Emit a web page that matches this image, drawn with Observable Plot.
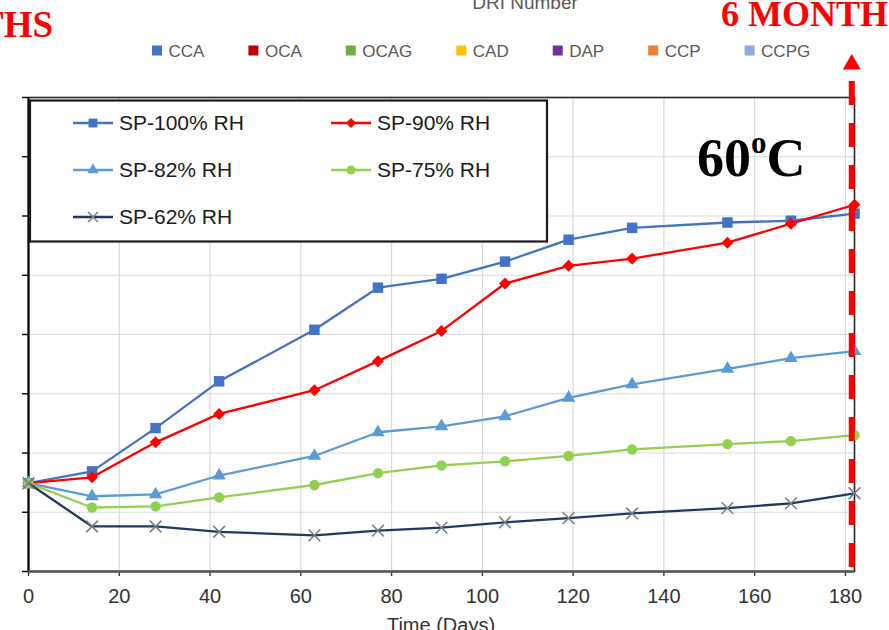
<!DOCTYPE html>
<html>
<head>
<meta charset="utf-8">
<script src="https://cdn.jsdelivr.net/npm/d3@7"></script>
<script src="https://cdn.jsdelivr.net/npm/@observablehq/plot@0.6"></script>
<style>
  html, body { margin: 0; padding: 0; width: 889px; height: 630px; overflow: hidden; background: #fff; }
  #chart { position: absolute; left: 0; top: 0; }
  #chart svg { overflow: hidden; }
</style>
</head>
<body>
<div id="chart"></div>
<script>
// Storage time (days) and the response measured for each humidity level at 60 °C
const days  = [0, 14, 28, 42, 63, 77, 91, 105, 119, 133, 154, 168, 182];
const rh100 = [1.49, 1.69, 2.42, 3.21, 4.08, 4.79, 4.94, 5.23, 5.60, 5.80, 5.89, 5.92, 6.04];
const rh90  = [1.49, 1.59, 2.18, 2.66, 3.06, 3.55, 4.06, 4.86, 5.16, 5.28, 5.55, 5.87, 6.19];
const rh82  = [1.49, 1.27, 1.30, 1.62, 1.95, 2.35, 2.45, 2.62, 2.93, 3.16, 3.42, 3.60, 3.72];
const rh75  = [1.49, 1.08, 1.10, 1.25, 1.46, 1.66, 1.79, 1.86, 1.95, 2.06, 2.15, 2.20, 2.30];
const rh62  = [1.49, 0.76, 0.76, 0.67, 0.61, 0.69, 0.74, 0.83, 0.90, 0.98, 1.07, 1.15, 1.32];

const seriesNames  = ["SP-100% RH", "SP-90% RH", "SP-82% RH", "SP-75% RH", "SP-62% RH"];
const seriesValues = [rh100, rh90, rh82, rh75, rh62];

// Categories of the DRI Number key shown above the chart
const groupLabels = ["CCA", "OCA", "OCAG", "CAD", "DAP", "CCP", "CCPG"];

const xTicks = [0, 20, 40, 60, 80, 100, 120, 140, 160, 180];
const yTicks = [0, 1, 2, 3, 4, 5, 6, 7, 8];

// Six-month mark (day) with its arrow
const sixMonthDay = 181.4;

// ---- styling ----
const lineColors   = ["#4472C4", "#FF0000", "#5B9BD5", "#92D050", "#1F3864"];
const groupColors  = ["#4472C4", "#C00000", "#70AD47", "#FFC000", "#7030A0", "#ED7D31", "#8FAADC"];
const markerStyle = [
  {symbol: "square",   r: 5.9, fill: "#4472C4", stroke: "none"},
  {symbol: "diamond2", r: 5.4, fill: "#FF0000", stroke: "none"},
  {symbol: "triangle", r: 5.0, fill: "#5B9BD5", stroke: "none"},
  {symbol: "circle",   r: 5.2, fill: "#92D050", stroke: "none"},
  {symbol: "times",    r: 5.4, fill: "none",    stroke: "#7F7F7F"}
];

const rows = seriesNames.flatMap((name, i) =>
  days.map((d, j) => ({series: name, day: d, value: seriesValues[i][j]})));

const seriesMarks = seriesNames.flatMap((name, i) => {
  const data = rows.filter(r => r.series === name);
  const m = markerStyle[i];
  return [
    Plot.line(data, {x: "day", y: "value", stroke: lineColors[i], strokeWidth: 2.3}),
    Plot.dot(data, {x: "day", y: "value", symbol: m.symbol, r: m.r, fill: m.fill,
                    stroke: m.stroke, strokeWidth: 1.6})
  ];
});

const plot = Plot.plot({
  width: 889,
  height: 630,
  marginLeft: 28,
  marginRight: 35,
  marginTop: 97,
  marginBottom: 59,
  style: {background: "white", fontFamily: "Liberation Sans, Arial, sans-serif"},
  x: {domain: [0, 182]},
  y: {domain: [0, 8]},
  marks: [
    Plot.gridX(xTicks.slice(1), {stroke: "#D9D9D9", strokeOpacity: 1, strokeWidth: 1.2}),
    Plot.gridY(yTicks.slice(1, -1), {stroke: "#D9D9D9", strokeOpacity: 1, strokeWidth: 1.2}),
    Plot.frame({stroke: "#262626", strokeWidth: 1.6}),
    Plot.axisY(yTicks, {tickSize: 6, tickFormat: () => "", label: null, color: "#000", strokeWidth: 1.4}),
    Plot.axisX(xTicks, {tickSize: 5, tickPadding: 12, fontSize: 20, label: null,
                        color: "#333333", strokeWidth: 1.4}),
    Plot.ruleX([0], {stroke: "#000", strokeWidth: 2}),
    Plot.ruleY([0], {stroke: "#595959", strokeWidth: 2.4}),
    ...seriesMarks,
    // dashed six-month marker and its arrowhead
    Plot.ruleX([sixMonthDay], {y1: 8.27, y2: 0.05, stroke: "#FF0000", strokeWidth: 6,
                               strokeDasharray: "24,18"}),
    Plot.dot([sixMonthDay], {x: d => d, y: () => 8.56, symbol: "triangle", r: 6.7,
                             fill: "#FF0000", stroke: "none"})
  ]
});

document.getElementById("chart").append(plot);

const svg = d3.select(plot);
const sans = "Liberation Sans, Arial, sans-serif";
const serif = "Liberation Serif, Times New Roman, serif";

// ---- headings around the plot ----
svg.append("text").attr("x", 525).attr("y", 9).attr("text-anchor", "middle")
  .attr("font-family", sans).attr("font-size", 19).attr("fill", "#595959").text("DRI Number");

svg.append("text").attr("x", 53).attr("y", 37).attr("text-anchor", "end")
  .attr("font-family", serif).attr("font-weight", "bold").attr("font-size", 37)
  .attr("fill", "#FF0000").text("THS");

svg.append("text").attr("x", 721).attr("y", 26).attr("text-anchor", "start")
  .attr("font-family", serif).attr("font-weight", "bold").attr("font-size", 36)
  .attr("fill", "#FF0000").text("6 MONTH");

svg.append("text").attr("x", 441).attr("y", 632).attr("text-anchor", "middle")
  .attr("font-family", sans).attr("font-size", 20).attr("fill", "#333333").text("Time (Days)");

// temperature tag
const temp = svg.append("text").attr("x", 697).attr("y", 176).attr("text-anchor", "start")
  .attr("font-family", serif).attr("font-weight", "bold").attr("font-size", 54).attr("fill", "#000");
temp.append("tspan").text("60");
temp.append("tspan").attr("font-size", 31).attr("dy", -23).text("o");
temp.append("tspan").attr("dy", 23).text("C");

// ---- DRI Number category key ----
let kx = 152;
groupLabels.forEach((label, i) => {
  svg.append("rect").attr("x", kx).attr("y", 45.5).attr("width", 10).attr("height", 10)
    .attr("fill", groupColors[i]);
  const t = svg.append("text").attr("x", kx + 16.5).attr("y", 51).attr("dy", "0.35em")
    .attr("text-anchor", "start")
    .attr("font-family", sans).attr("font-size", 17).attr("fill", "#595959").text(label);
  kx += 16.5 + t.node().getComputedTextLength() + 44;
});

// ---- series legend box ----
const lg = svg.append("g");
lg.append("rect").attr("x", 30).attr("y", 100.5).attr("width", 517).attr("height", 141)
  .attr("fill", "#fff").attr("stroke", "#1A1A1A").attr("stroke-width", 2.2);
const colX = [73, 331];
const rowY = [123, 170, 217];
const symbolFor = {
  square: d3.symbolSquare, diamond2: d3.symbolDiamond2, triangle: d3.symbolTriangle,
  circle: d3.symbolCircle, times: d3.symbolTimes
};
seriesNames.forEach((name, i) => {
  const x = colX[i % 2], y = rowY[Math.floor(i / 2)];
  const m = markerStyle[i];
  lg.append("line").attr("x1", x).attr("x2", x + 40).attr("y1", y).attr("y2", y)
    .attr("stroke", lineColors[i]).attr("stroke-width", 2.3);
  const size = Math.PI * (m.r * 0.85) ** 2;
  lg.append("path").attr("transform", `translate(${x + 20},${y})`)
    .attr("d", d3.symbol(symbolFor[m.symbol], size)())
    .attr("fill", m.fill).attr("stroke", m.stroke).attr("stroke-width", 1.6);
  lg.append("text").attr("x", x + 46).attr("y", y).attr("dy", "0.35em")
    .attr("text-anchor", "start")
    .attr("font-family", sans).attr("font-size", 21).attr("fill", "#1A1A1A").text(name);
});
</script>
</body>
</html>
